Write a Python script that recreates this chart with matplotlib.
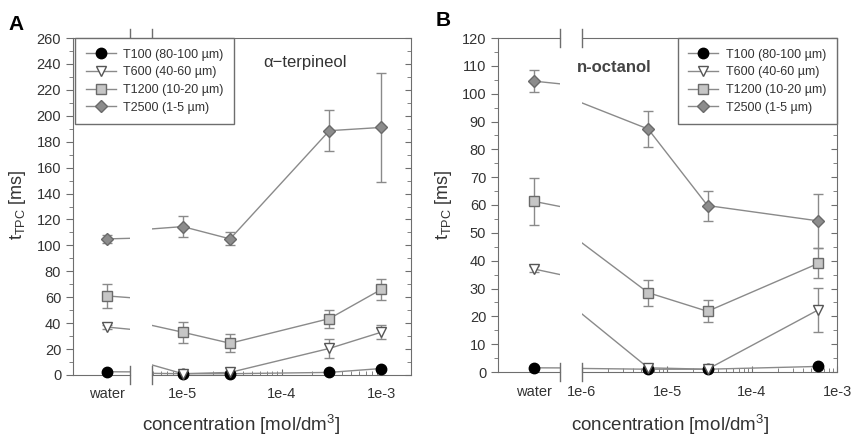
import numpy as np
import matplotlib
matplotlib.use('Agg')
import matplotlib.pyplot as plt
from matplotlib.lines import Line2D
from matplotlib.ticker import FixedLocator, MultipleLocator, NullFormatter

plt.rcParams['font.family'] = ['Liberation Sans', 'DejaVu Sans']
plt.rcParams['mathtext.fontset'] = 'custom'
plt.rcParams['mathtext.rm'] = 'Liberation Sans'
plt.rcParams['mathtext.it'] = 'Liberation Sans:italic'

# ---- data (first value of each series = water, rest = concentrations) ----
labels = ['T100 (80-100 \u00b5m)', 'T600 (40-60 \u00b5m)',
          'T1200 (10-20 \u00b5m)', 'T2500 (1-5 \u00b5m)']

conc_A = [1e-5, 3e-5, 3e-4, 1e-3]
t100_A = [2.5, 1, 1, 2, 5]
t600_A = [37, 1, 2, 20.5, 33]
t600_A_err = [1.5, 1, 1, 7, 5.5]
t1200_A = [61, 33, 24.5, 43.5, 66]
t1200_A_err = [9, 8, 7, 7, 8]
t2500_A = [105, 114.5, 105, 188.5, 191]
t2500_A_err = [3, 8, 5, 16, 42]

conc_B = [6e-6, 3e-5, 6e-4]
t100_B = [1.5, 1, 1, 2]
t600_B = [37, 1.5, 1, 22.3]
t600_B_err = [1, 1, 0.5, 8]
t1200_B = [61.3, 28.5, 21.8, 39]
t1200_B_err = [8.5, 4.7, 4, 5.4]
t2500_B = [104.5, 87.3, 59.8, 54.3]
t2500_B_err = [4, 6.3, 5.4, 9.8]

W, H = 853, 437
fig = plt.figure(figsize=(W / 100, H / 100), dpi=100)

def rect(x0, x1, y0, y1):
    return [x0 / W, 1 - y1 / H, (x1 - x0) / W, (y1 - y0) / H]

line_c = '#8a8a8a'
spine_c = '#6e6e6e'
text_c = '#333333'
styles = [dict(marker='o', mfc='black', mec='black', ms=7.5),
          dict(marker='v', mfc='white', mec='#555555', ms=7.5),
          dict(marker='s', mfc='#c6c6c6', mec='#6a6a6a', ms=7.5),
          dict(marker='D', mfc='#8c8c8c', mec='#6a6a6a', ms=6.5)]

def draw_panel(rw, rc, wlim, clim, u_water, conc, series, errs, ymax, ymaj, ymin):
    ax_w = fig.add_axes(rw)
    ax_c = fig.add_axes(rc)
    u = np.r_[u_water, np.log10(conc)]
    for ax, lim in ((ax_w, wlim), (ax_c, clim)):
        inside = (u >= lim[0]) & (u <= lim[1])
        for k, (s, e, st) in enumerate(zip(series, errs, styles)):
            s = np.asarray(s)
            ax.errorbar(u, s, yerr=e, color=line_c, lw=1, elinewidth=1,
                        ecolor=line_c, capsize=3.5, capthick=1, zorder=2 + k)
            ax.plot(u[inside], s[inside], ls='none', mew=1, clip_on=False,
                    zorder=6 + k, **st)
        ax.set_xlim(*lim)
        ax.set_ylim(0, ymax)
        for sp in ax.spines.values():
            sp.set_color(spine_c)
    ax_w.spines['right'].set_visible(False)
    ax_c.spines['left'].set_visible(False)

    ax_w.yaxis.set_major_locator(MultipleLocator(ymaj))
    ax_w.yaxis.set_minor_locator(MultipleLocator(ymin))
    ax_w.tick_params(axis='y', which='both', direction='out', colors=spine_c,
                     labelcolor=text_c, labelsize=10.5)
    ax_w.tick_params(axis='y', which='major', length=5)
    ax_w.tick_params(axis='y', which='minor', length=3)
    ax_w.set_xticks([u_water])
    ax_w.set_xticklabels(['water'])
    ax_w.tick_params(axis='x', length=0, pad=9, labelsize=10.5, labelcolor=text_c)

    ax_c.yaxis.tick_right()
    ax_c.yaxis.set_major_locator(MultipleLocator(ymaj))
    ax_c.yaxis.set_minor_locator(MultipleLocator(ymin))
    ax_c.tick_params(axis='y', which='both', direction='in', colors=spine_c,
                     labelright=False)
    ax_c.tick_params(axis='y', which='major', length=4)
    ax_c.tick_params(axis='y', which='minor', length=3)

    decades = np.arange(np.ceil(clim[0]), np.floor(clim[1]) + 1)
    ax_c.set_xticks(decades)
    ax_c.set_xticklabels(['1e%d' % d for d in decades])
    minors = [np.log10(k) + d for d in np.arange(np.floor(clim[0]), clim[1])
              for k in range(2, 10)]
    minors = [m for m in minors if clim[0] < m < clim[1]]
    ax_c.xaxis.set_minor_locator(FixedLocator(minors))
    ax_c.xaxis.set_minor_formatter(NullFormatter())
    ax_c.tick_params(axis='x', which='both', direction='in', colors=spine_c,
                     labelcolor=text_c, labelsize=10.5, pad=9)
    ax_c.tick_params(axis='x', which='major', length=4)
    ax_c.tick_params(axis='x', which='minor', length=3)

    # axis break marks
    d = 9 / (rw[3] * H)
    for ax, xb in ((ax_w, 1), (ax_c, 0)):
        for yb in (0, 1):
            ax.plot([xb, xb], [yb - d, yb + d], transform=ax.transAxes,
                    color=spine_c, lw=1, clip_on=False, zorder=5)
    return ax_w, ax_c

draw_panel(rect(73, 130, 38, 375), rect(152, 411, 38, 375),
           (-6.65 - 0.117, -6.65 + 0.079), (-5.31, -2.70), -6.65, conc_A,
           [t100_A, t600_A, t1200_A, t2500_A],
           [None, t600_A_err, t1200_A_err, t2500_A_err], 260, 20, 10)

draw_panel(rect(498, 560, 38, 372), rect(582, 837, 38, 372),
           (-6.65 - 0.111, -6.65 + 0.080), (-6.0, -3.0), -6.65, conc_B,
           [t100_B, t600_B, t1200_B, t2500_B],
           [None, t600_B_err, t1200_B_err, t2500_B_err], 120, 10, 5)

handles = [Line2D([], [], color=line_c, lw=1, **st) for st in styles]
leg_kw = dict(fontsize=9, handlelength=2.4, labelspacing=0.45, borderpad=0.85,
              borderaxespad=0, fancybox=False, framealpha=1, edgecolor=spine_c,
              handletextpad=0.6, labelcolor=text_c)
fig.legend(handles, labels, loc='upper left', bbox_to_anchor=(75 / W, 1 - 38 / H), **leg_kw)
fig.legend(handles, labels, loc='upper right', bbox_to_anchor=(837 / W, 1 - 38 / H), **leg_kw)

# titles, panel labels, axis labels
fig.text(16 / W, 1 - 25 / H, 'A', fontsize=15, fontweight='bold', ha='center', va='center')
fig.text(443 / W, 1 - 21 / H, 'B', fontsize=15, fontweight='bold', ha='center', va='center')
fig.text(263 / W, 1 - 63 / H, '\u03b1\u2212terpineol', fontsize=12, color=text_c, va='center')
fig.text(577 / W, 1 - 67 / H, 'n-octanol', fontsize=12, fontweight='bold', color='#444444', va='center')
ylab = r't$_{\mathrm{TPC}}$ [ms]'
fig.text(17 / W, 1 - 205 / H, ylab, fontsize=13, rotation=90, ha='center', va='center', color=text_c)
fig.text(444 / W, 1 - 205 / H, ylab, fontsize=13, rotation=90, ha='center', va='center', color=text_c)
xlab = r'concentration [mol/dm$^3$]'
fig.text(241 / W, 1 - 425 / H, xlab, fontsize=13.5, ha='center', va='center', color=text_c)
fig.text(670 / W, 1 - 425 / H, xlab, fontsize=13.5, ha='center', va='center', color=text_c)

fig.savefig('out.png', dpi=100)
